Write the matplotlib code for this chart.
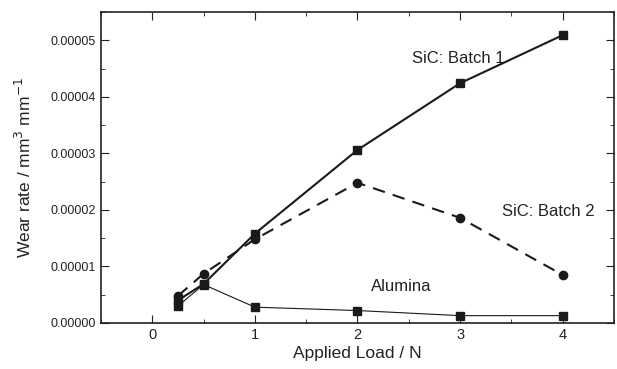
import matplotlib
matplotlib.use('Agg')
import matplotlib.pyplot as plt
from matplotlib.ticker import FormatStrFormatter, MultipleLocator

plt.rcParams['font.family'] = ['Liberation Sans', 'DejaVu Sans']

# applied load values (N)
load = [0.25, 0.5, 1, 2, 3, 4]

# wear rates in mm^3 / mm
sic_batch1 = [0.40e-5, 0.69e-5, 1.58e-5, 3.06e-5, 4.24e-5, 5.09e-5]
sic_batch2 = [0.48e-5, 0.87e-5, 1.48e-5, 2.48e-5, 1.86e-5, 0.85e-5]
alumina = [0.30e-5, 0.68e-5, 0.28e-5, 0.22e-5, 0.13e-5, 0.13e-5]

fig = plt.figure(figsize=(6.17, 3.69), dpi=100)
ax = fig.add_axes([0.1637, 0.1247, 0.8313, 0.8428])

ax.plot(load, sic_batch1, color='#1a1a1a', lw=1.5, marker='s', ms=5.5)
ax.plot(load, sic_batch2, color='#1a1a1a', lw=1.5, ls=(0, (6, 4)), marker='o', ms=6)
ax.plot(load, alumina, color='#1a1a1a', lw=0.8, marker='s', ms=6)

ax.text(2.53, 4.68e-5, 'SiC: Batch 1', fontsize=12, va='center', color='#222222')
ax.text(3.41, 1.98e-5, 'SiC: Batch 2', fontsize=12, va='center', color='#222222')
ax.text(2.13, 0.64e-5, 'Alumina', fontsize=12, va='center', color='#222222')

ax.set_xlim(-0.5, 4.5)
ax.set_ylim(0, 5.5e-5)
ax.xaxis.set_major_locator(MultipleLocator(1))
ax.xaxis.set_minor_locator(MultipleLocator(0.5))
ax.yaxis.set_major_locator(MultipleLocator(1e-5))
ax.yaxis.set_minor_locator(MultipleLocator(0.5e-5))
ax.yaxis.set_major_formatter(FormatStrFormatter('%.5f'))

ax.tick_params(which='both', direction='in', top=True, right=True, colors='#222222')
ax.tick_params(which='major', length=6)
ax.tick_params(axis='y', labelsize=9)
ax.tick_params(axis='x', labelsize=10.5)
ax.tick_params(which='minor', length=3)
for s in ax.spines.values():
    s.set_linewidth(1.2)
    s.set_color('#222222')

ax.set_xlabel('Applied Load / N', fontsize=12.5, color='#222222', labelpad=3)
ax.set_ylabel('Wear rate / mm$^3$ mm$^{-1}$', fontsize=12.5, color='#222222', labelpad=12)

fig.savefig('out.png', dpi=100)
